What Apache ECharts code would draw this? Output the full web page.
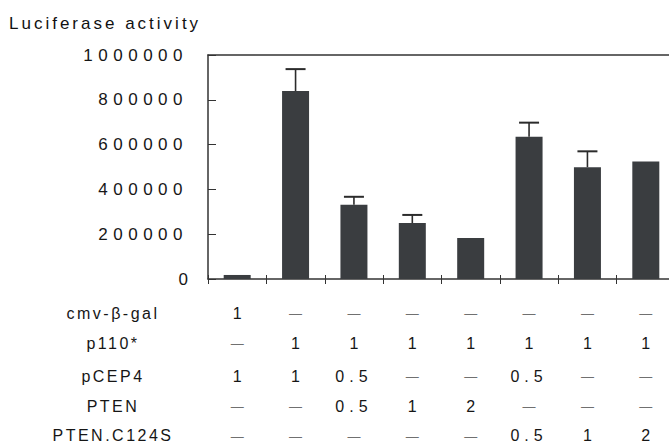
<!DOCTYPE html>
<html>
<head>
<meta charset="utf-8">
<script src="https://cdn.jsdelivr.net/npm/echarts@6/dist/echarts.min.js"></script>
<style>
  html, body { margin: 0; padding: 0; background: #fff; }
  #c { width: 669px; height: 445px; }
</style>
</head>
<body>
<div id="c"></div>
<script>
// ---- data ----
const lanes = ['1', '2', '3', '4', '5', '6', '7', '8'];
const luciferase = [18000, 839000, 332000, 250000, 183000, 635000, 499000, 524000];
const errorTop = [null, 937000, 367000, 286000, null, 698000, 570000, null];
const yMin = 0, yMax = 1000000, yStep = 200000;
const titleText = 'Luciferase activity';
const rowLabels = ['cmv-β-gal', 'p110*', 'pCEP4', 'PTEN', 'PTEN.C124S'];
const rowCmvBgal = ['1', '—', '—', '—', '—', '—', '—', '—'];
const rowP110 = ['—', '1', '1', '1', '1', '1', '1', '1'];
const rowPCEP4 = ['1', '1', '0.5', '—', '—', '0.5', '—', '—'];
const rowPTEN = ['—', '—', '0.5', '1', '2', '—', '—', '—'];
const rowPTENC124S = ['—', '—', '—', '—', '—', '0.5', '1', '2'];
const rows = [rowCmvBgal, rowP110, rowPCEP4, rowPTEN, rowPTENC124S];

// ---- layout ----
const GRID_LEFT = 208, GRID_TOP = 55, GRID_BOTTOM_Y = 279, GRID_W = 467;
const rowY = [313, 343, 376, 406, 435];
const labelCenterX = 113;
const FONT = '"Liberation Sans", Arial, Helvetica, sans-serif';
const INK = '#161616';
const AXIS = '#333333';

const chart = echarts.init(document.getElementById('c'), null, { renderer: 'svg' });

const rowAxes = rows.map((r, i) => ({
  type: 'category',
  gridIndex: 0,
  position: 'bottom',
  offset: rowY[i] - GRID_BOTTOM_Y,
  data: r,
  axisLine: { show: false },
  axisTick: { show: false },
  axisLabel: {
    show: true, margin: 0, verticalAlign: 'middle', interval: 0,
    fontFamily: FONT, fontSize: 16, color: INK,
    formatter: v => v === '—' ? '{d|—}' : v,
    rich: { d: { fontFamily: FONT, fontSize: 13, color: '#707070', padding: i === 4 ? [2, 0, 0, 0] : 0 } }
  },
  name: rowLabels[i],
  nameLocation: 'start',
  nameGap: GRID_LEFT - labelCenterX,
  nameTextStyle: { fontFamily: FONT, fontSize: 16, color: INK, align: 'center', verticalAlign: 'middle' }
}));

const option = {
  animation: false,
  backgroundColor: '#fff',
  title: {
    text: titleText, left: 4, top: 10,
    textStyle: { fontFamily: FONT, fontSize: 17, fontWeight: 'normal', color: '#111' }
  },
  grid: {
    left: GRID_LEFT, top: GRID_TOP, width: GRID_W, height: GRID_BOTTOM_Y - GRID_TOP,
    containLabel: false, outerBoundsMode: 'none'
  },
  xAxis: [
    {
      type: 'category', data: lanes, position: 'bottom',
      axisLine: { show: true, lineStyle: { color: AXIS, width: 1.5 } },
      axisTick: { show: true, inside: false, length: 5, lineStyle: { color: AXIS, width: 1 } },
      axisLabel: { show: false }
    },
    {
      type: 'category', data: lanes, position: 'bottom', gridIndex: 0,
      axisLine: { show: false },
      axisTick: { show: true, inside: true, length: 4, lineStyle: { color: AXIS, width: 1 } },
      axisLabel: { show: false }
    },
    {
      type: 'category', data: lanes, position: 'top', gridIndex: 0,
      axisLine: { show: true, lineStyle: { color: AXIS, width: 1.5 } },
      axisTick: { show: false }, axisLabel: { show: false }
    },
    ...rowAxes
  ],
  yAxis: [
    {
      type: 'value', min: yMin, max: yMax, interval: yStep,
      axisLine: { show: true, lineStyle: { color: AXIS, width: 1.5 } },
      axisTick: { show: true, inside: true, length: 8, lineStyle: { color: AXIS, width: 1 } },
      splitLine: { show: false },
      axisLabel: { margin: 20, fontFamily: FONT, fontSize: 17, color: INK, formatter: v => String(v) }
    },
    {
      type: 'value', min: yMin, max: yMax, interval: yStep,
      axisLine: { show: false },
      axisTick: { show: true, inside: false, length: 4, lineStyle: { color: AXIS, width: 1 } },
      splitLine: { show: false },
      axisLabel: { show: false }
    }
  ],
  series: [
    {
      type: 'bar', data: luciferase, xAxisIndex: 0, yAxisIndex: 0,
      barWidth: 27,
      itemStyle: { color: '#3a3d40' }
    },
    {
      type: 'custom', xAxisIndex: 0, yAxisIndex: 0,
      data: lanes.map((l, i) => [i, luciferase[i], errorTop[i]]),
      z: 3,
      renderItem: function (params, api) {
        const top = api.value(2);
        if (top == null || isNaN(top)) return null;
        const x = api.coord([api.value(0), 0])[0];
        const y0 = api.coord([api.value(0), api.value(1)])[1];
        const y1 = api.coord([api.value(0), top])[1];
        const cap = 10;
        return {
          type: 'group',
          children: [
            { type: 'line', shape: { x1: x, y1: y0, x2: x, y2: y1 }, style: { stroke: '#2b2b2b', lineWidth: 1.6 } },
            { type: 'line', shape: { x1: x - cap, y1: y1, x2: x + cap, y2: y1 }, style: { stroke: '#2b2b2b', lineWidth: 2 } }
          ]
        };
      }
    }
  ]
};
chart.setOption(option);

function applySpacing() {
  document.querySelectorAll('#c svg text').forEach(t => {
    const s = (t.textContent || '').trim();
    if (/^[0-9]{2,}$/.test(s)) {
      t.style.letterSpacing = '5.5px';
    } else if (/^[0-9.]+$/.test(s)) {
      t.style.letterSpacing = s.length > 1 ? '5px' : '0px';
    } else if (s === '—') {
      t.style.letterSpacing = '0px';
    } else if (s === titleText) {
      t.style.letterSpacing = '3px';
    } else {
      t.style.letterSpacing = '2.5px';
    }
  });
}
chart.on('finished', applySpacing);
applySpacing();
setTimeout(applySpacing, 0);
</script>
</body>
</html>
